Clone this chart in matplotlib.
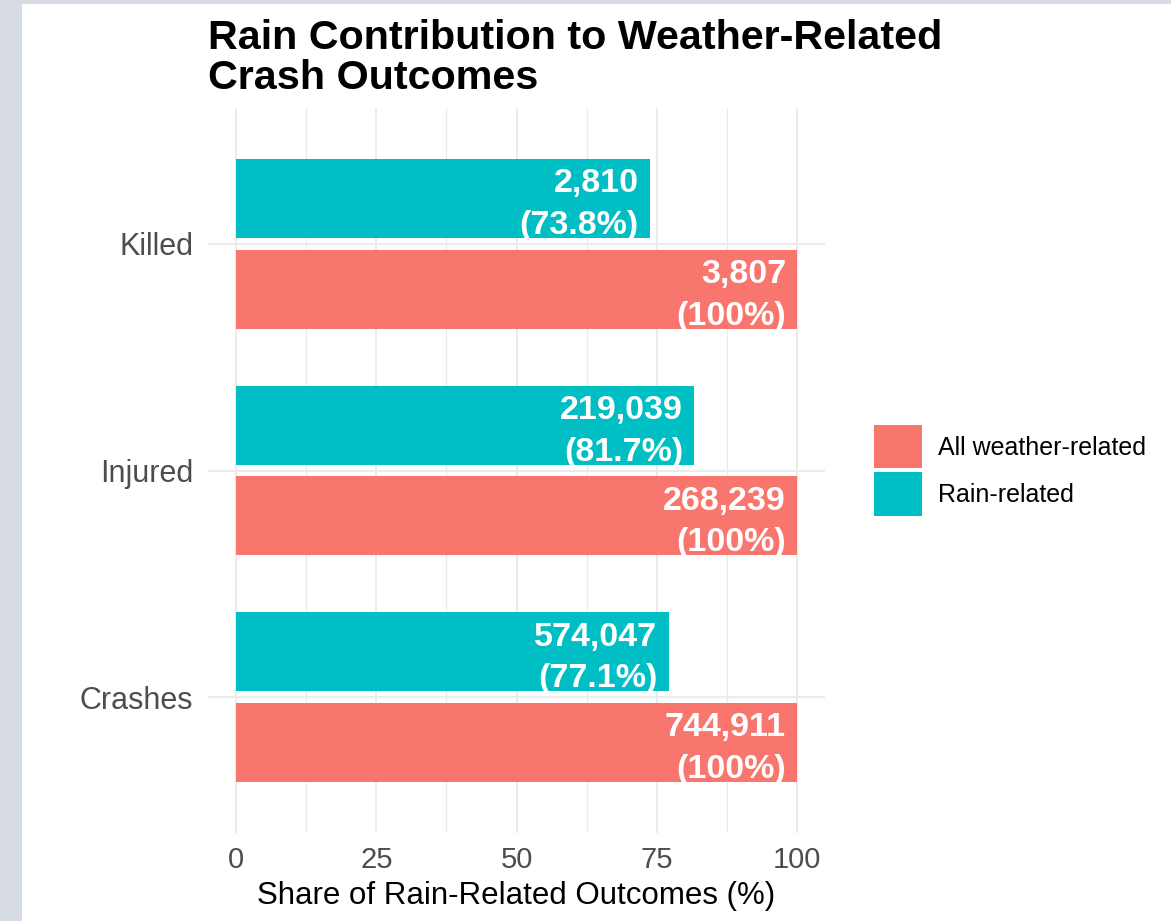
"""Horizontal dodged bar chart: rain share of weather-related crash outcomes."""

import numpy as np
import matplotlib

matplotlib.use("Agg")
import matplotlib.pyplot as plt
from matplotlib.patches import Patch, Rectangle

plt.rcParams.update({
    "font.family": ["Liberation Sans", "DejaVu Sans"],
    "figure.dpi": 100,
    "savefig.dpi": 100,
})

RED = "#F8766D"
CYAN = "#00BFC4"
GRID = "#EBEBEB"
TICK = "#4D4D4D"

# bottom to top on the y axis
categories = ["Crashes", "Injured", "Killed"]
rain_counts = [574047, 219039, 2810]
all_counts = [744911, 268239, 3807]
rain_share = [77.1, 81.7, 73.8]
all_share = [100, 100, 100]

x_ticks = [0, 25, 50, 75, 100]
legend_labels = ["All weather-related", "Rain-related"]


def bar_label(count, pct):
    return f"{count:,}\n({pct:g}%)"


fig = plt.figure(figsize=(11.71, 9.21))
fig.patch.set_facecolor("#D7DBE4")
fig.add_artist(Rectangle((22 / 1171, 0), 1 - 22 / 1171, 1 - 4 / 921,
                         transform=fig.transFigure, facecolor="white",
                         edgecolor="none", zorder=0))

ax = fig.add_axes([208 / 1171, 1 - 833 / 921, 617 / 1171, 725 / 921])
ax.set_facecolor("none")

y = np.arange(1, len(categories) + 1)
h = 0.35
off = 0.2

for v in [12.5, 37.5, 62.5, 87.5]:
    ax.axvline(v, color=GRID, lw=0.9, zorder=0)
for v in x_ticks:
    ax.axvline(v, color=GRID, lw=1.4, zorder=0)
for yy in y:
    ax.axhline(yy, color=GRID, lw=1.4, zorder=0)

ax.barh(y - off, all_share, height=h, color=RED, zorder=2)
ax.barh(y + off, rain_share, height=h, color=CYAN, zorder=2)

# value labels sit inside the bar ends, slightly below centre
for i, yy in enumerate(y):
    ax.annotate(bar_label(all_counts[i], all_share[i]), (all_share[i], yy - off),
                xytext=(-8, -4.5), textcoords="offset points", ha="right", va="center",
                color="white", fontsize=24.5, fontweight="bold", linespacing=1.45, zorder=3)
    ax.annotate(bar_label(rain_counts[i], rain_share[i]), (rain_share[i], yy + off),
                xytext=(-8, -4.5), textcoords="offset points", ha="right", va="center",
                color="white", fontsize=24.5, fontweight="bold", linespacing=1.45, zorder=3)

ax.set_xlim(-5, 105)
ax.set_ylim(0.4, 3.6)
ax.set_xticks(x_ticks)
ax.set_yticks(y)
ax.set_yticklabels(categories)
ax.tick_params(axis="both", length=0, colors=TICK)
ax.tick_params(axis="x", labelsize=21, pad=9.5)
ax.tick_params(axis="y", labelsize=22, pad=10.5)
for s in ax.spines.values():
    s.set_visible(False)

ax.set_xlabel("Share of Rain-Related Outcomes (%)", fontsize=22.5, color="black", labelpad=5)
ax.set_title("Rain Contribution to Weather-Related\nCrash Outcomes", loc="left",
             fontsize=29.7, fontweight="bold", linespacing=1.05, pad=14)

handles = [Patch(facecolor=RED, edgecolor="none"), Patch(facecolor=CYAN, edgecolor="none")]
ax.legend(handles, legend_labels, loc="center left", bbox_to_anchor=(666 / 617, 0.5),
          frameon=False, fontsize=18, borderpad=0, borderaxespad=0,
          handlelength=1.92, handleheight=2.27, labelspacing=0.16, handletextpad=0.64)

fig.savefig("out.png", facecolor=fig.get_facecolor())
